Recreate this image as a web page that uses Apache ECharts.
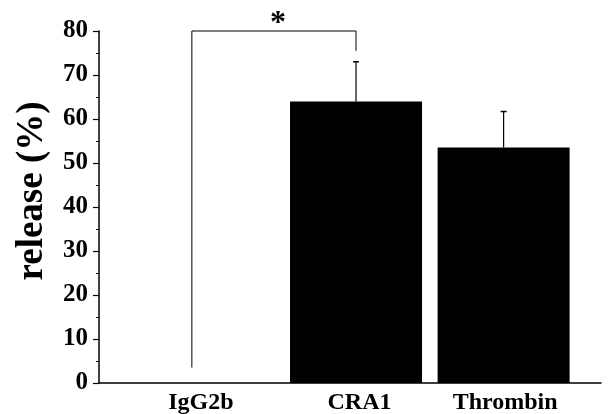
<!DOCTYPE html>
<html>
<head>
<meta charset="utf-8">
<script src="https://cdn.jsdelivr.net/npm/echarts@6/dist/echarts.min.js"></script>
<style>
  html, body { margin: 0; padding: 0; background: #fff; }
  #chart { width: 609px; height: 414px; }
</style>
</head>
<body>
<div id="chart"></div>
<script>
// Release (%) per stimulus, mean with upper error whisker.
const categories = ['IgG2b', 'CRA1', 'Thrombin'];
const catPos = [18.5, 51.2, 80.6];      // bar centres on the hidden x scale (0..100)
const labelPos = [20.3, 51.9, 80.9];    // where the category names sit
const means = [0, 64, 53.5];
const errTop = [0, 73, 61.7];
const yTicks = [0, 10, 20, 30, 40, 50, 60, 70, 80];
const yTitle = 'release (%)';

// significance bracket between IgG2b and CRA1
const bracket = { from: 0, to: 1, top: 80, leftFoot: 3.5, rightFoot: 75.5, mark: '*' };

const FONT = '"Liberation Serif", "DejaVu Serif", serif';

const chart = echarts.init(document.getElementById('chart'));

const barData = categories.map((c, i) => [catPos[i], means[i]]);
const errData = categories.map((c, i) => [catPos[i], means[i], errTop[i]]).filter((d) => d[2] > d[1]);

chart.setOption({
  animation: false,
  backgroundColor: '#fff',
  grid: { left: 99, right: 8, top: 31, bottom: 31, outerBoundsMode: 'none' },
  graphic: [
    {
      type: 'text',
      x: 32,
      y: 191,
      rotation: Math.PI / 2,
      style: {
        text: yTitle,
        align: 'center',
        verticalAlign: 'middle',
        font: 'bold 37px ' + FONT,
        fill: '#000',
      },
    },
  ],
  xAxis: {
    type: 'value',
    min: 0,
    max: 100,
    splitLine: { show: false },
    axisLine: { show: true, onZero: false, lineStyle: { color: '#000', width: 1.5 } },
    axisTick: { show: false },
    axisLabel: {
      customValues: labelPos,
      formatter: (v) => categories[labelPos.indexOf(v)] || '',
      color: '#000',
      fontFamily: FONT,
      fontWeight: 'bold',
      fontSize: 24,
      margin: 8,
    },
  },
  yAxis: {
    type: 'value',
    min: 0,
    max: 80,
    interval: 10,
    splitLine: { show: false },
    axisLine: { show: true, lineStyle: { color: '#000', width: 1.5 } },
    axisTick: { show: true, length: 6, lineStyle: { color: '#000', width: 1.2 } },
    minorTick: { show: true, splitNumber: 2, length: 3, lineStyle: { color: '#000' } },
    axisLabel: {
      color: '#000',
      fontFamily: FONT,
      fontWeight: 'bold',
      fontSize: 25,
      margin: 11,
      formatter: (v) => (yTicks.includes(v) ? String(v) : ''),
    },
  },
  series: [
    {
      type: 'bar',
      data: barData,
      barWidth: 132,
      itemStyle: { color: '#000' },
    },
    {
      type: 'custom',
      data: errData,
      renderItem: (params, api) => {
        const lo = api.coord([api.value(0), api.value(1)]);
        const hi = api.coord([api.value(0), api.value(2)]);
        return {
          type: 'group',
          children: [
            { type: 'line', shape: { x1: lo[0], y1: lo[1], x2: hi[0], y2: hi[1] }, style: { stroke: '#000', lineWidth: 1.2 } },
            { type: 'line', shape: { x1: hi[0] - 3, y1: hi[1], x2: hi[0] + 3, y2: hi[1] }, style: { stroke: '#000', lineWidth: 1.5 } },
          ],
        };
      },
      z: 3,
    },
    {
      type: 'custom',
      data: [[catPos[bracket.from], catPos[bracket.to]]],
      renderItem: (params, api) => {
        const a = api.coord([catPos[bracket.from], bracket.leftFoot]);
        const b = api.coord([catPos[bracket.from], bracket.top]);
        const c = api.coord([catPos[bracket.to], bracket.top]);
        const d = api.coord([catPos[bracket.to], bracket.rightFoot]);
        return {
          type: 'group',
          children: [
            {
              type: 'polyline',
              shape: { points: [a, b, c, d] },
              style: { stroke: '#000', lineWidth: 1, fill: null },
            },
            {
              type: 'text',
              style: {
                text: bracket.mark,
                x: (b[0] + c[0]) / 2 + 4,
                y: b[1] + 9,
                align: 'center',
                verticalAlign: 'bottom',
                font: 'bold 32px ' + FONT,
                fill: '#000',
              },
            },
          ],
        };
      },
      z: 4,
    },
  ],
});
</script>
</body>
</html>
